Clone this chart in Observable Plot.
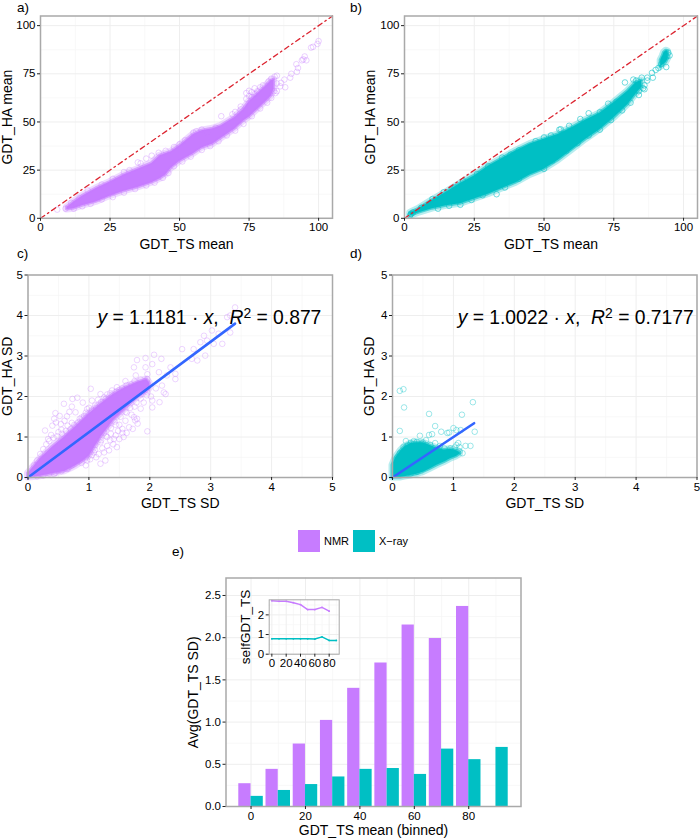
<!DOCTYPE html>
<html>
<head>
<meta charset="utf-8">
<script src="https://cdn.jsdelivr.net/npm/d3@7"></script>
<script src="https://cdn.jsdelivr.net/npm/@observablehq/plot@0.6"></script>
<style>
html,body{margin:0;padding:0;background:#fff}
#page{position:relative;width:700px;height:839px;overflow:hidden;font-family:"Liberation Sans",Arial,sans-serif;color:#000}
#page>svg,#page>figure{position:absolute;margin:0}
.tag{position:absolute;font-size:13.5px;line-height:14px}
.swatch{position:absolute;width:22px;height:22px}
.legtxt{position:absolute;font-size:11px;line-height:12px}
</style>
</head>
<body>
<div id="page"></div>
<script>
// ---------- colours / labels ----------
const nmrColor = "#C77CFF", xrayColor = "#00BFC4", fitColor = "#3366FF", identityColor = "#DC2430";
const panelTags = ["a)", "b)", "c)", "d)", "e)"];
const legendLabels = ["NMR", "X\u2212ray"];

// ---------- ticks ----------
const meanTicks = [0, 25, 50, 75, 100];
const meanMinor = [12.5, 37.5, 62.5, 87.5];
const sdTicks = [0, 1, 2, 3, 4, 5];
const sdMinor = [0.5, 1.5, 2.5, 3.5, 4.5];
const binTicks = [0, 20, 40, 60, 80];
const binMinor = [-10, 10, 30, 50, 70, 90];
const avgTicks = [0, 0.5, 1, 1.5, 2, 2.5];
const avgMinor = [0.25, 0.75, 1.25, 1.75, 2.25];
const selfYTicks = [0, 1, 2];
const identityEnds = [0, 105];

// ---------- panel a: dense NMR cloud outline [x, low, high] ----------
const nmrMeanCloud = [[9.5,4.6,5.6],[12,5,8.5],[15,6.5,11.5],[20,8.5,15.5],[25,11.5,18.8],[30,14,22.5],[35,16,25.5],[40,18.5,28.5],[43,20.5,32.5],[45,22.5,33.5],[47,26,34.5],[50,29.5,37.5],[55,33.5,43.5],[58,36.5,45.5],[62,38.5,46.5],[65,41.5,48],[70,46.5,52.5],[73,50.5,56.5],[75,52.5,60.5],[78,56.5,64.5],[81,60.5,68.5],[83,63.5,71.5],[84,67,72]];
const nmrMeanRings = [[100,92],[99.6,90.5],[98,89],[97.3,88.6],[95,84],[94.5,82.5],[94,82],[95.6,82],[92.6,78],[92,80],[92.2,76],[90.2,75],[89.8,73],[87.7,72],[88,68],[86.2,68.5],[85,74],[84.2,73.5],[83,72.5],[85,70],[84,66],[86.5,70.3],[84.5,65],[75,66.2],[74,65],[77,67.5],[76,63],[78,66],[72,56.5],[69,54],[70,55.2],[65,53],[60,44.5],[63,47],[55,44.5],[45,35],[48,37],[42.5,34],[40,32.5],[38,31],[36,28.5],[35,29],[32,25],[30,24],[26,20.5],[22,17.5],[17,14.5],[14,10.5],[11,8],[6,4.5],[9,5],[12,5],[15,6.2],[18,7.5],[22,9.8],[26,11],[30,13.3],[34,15.2],[38,17],[41,18.5],[44,21],[46,23.5],[48,27],[51,29.5],[54,32],[58,35.5],[61,37.5],[64,40],[67,43],[70,45.5],[73,49],[76,53],[79,57],[81.5,60],[83,62.5],[85,66],[82,71],[80,69],[79,68],[76,65.5],[74,62],[72,58],[75,63.5],[77,64.5],[56,45.2],[58,46],[52,40.5],[50,38.5]];

// ---------- panel b: dense X-ray cloud outline ----------
const xrayMeanCloud = [[2,1.2,2.8],[5,2.8,4.8],[10,5,9.4],[15,6.5,13.5],[20,7.5,18],[25,10,22],[30,12.5,27],[35,15.5,31],[40,18.5,35],[45,22.5,38.5],[50,25.5,41],[55,30,43.5],[60,35.5,47],[65,41,51],[70,46,54.5],[75,52,60],[80,59,66],[83,64.5,70.5],[85,68,71.5]];
const xrayMeanTip = [[91.8,78.5,82],[92.5,79.5,84],[93,80,86],[93.8,81,87],[94.5,83,86.5]];
const xrayMeanRings = [[94,84],[93,83],[92,80],[93.8,78.5],[95,84.5],[94.5,86],[91,78],[90,77],[88.7,75.5],[89,73],[87,73],[85,73],[87,71.5],[84,66],[86,69],[86,67],[82,72],[83,71.5],[79,70.5],[77,60],[76,60.5],[73,59.5],[70,55],[66,54.5],[63,51.5],[59,48],[56,46.2],[55.5,46],[52.5,43],[50,42],[47,40],[41,35.3],[38,33],[35,31.5],[30,27],[26,23],[21,19.3],[18,16],[14,13.5],[10,10],[6,5.5],[2,1.5],[3,3],[2.3,2.2],[12,5],[16,6.5],[20,7],[24,9.5],[28,12],[33,12.5],[36,16],[41,20.5],[47,26],[50,25.7],[53,30],[58,35],[62,39],[66,43],[70,46],[74,51],[78,56],[81,60],[84,64],[85.5,67.5]];

// ---------- panel c ----------
const nmrSdCloud = [[0,0,0.1],[0.1,0.01,0.28],[0.2,0.03,0.46],[0.4,0.09,0.75],[0.6,0.15,1],[0.7,0.22,1.14],[0.8,0.3,1.28],[0.9,0.4,1.42],[1,0.52,1.57],[1.2,1,1.82],[1.4,1.4,2.05],[1.6,1.7,2.22],[1.8,1.98,2.35],[1.95,2.12,2.42],[2,2.2,2.33]];
const nmrSdRings = [[3.4,4.2],[3.32,4],[3.27,3.96],[3.02,3.63],[3.13,3.55],[2.89,3.5],[2.94,3.38],[2.83,3.34],[3.05,3.3],[3.19,3.3],[3.32,3.58],[2.91,3.01],[2.72,3.17],[2.53,3.17],[2.69,2.93],[2.78,2.89],[2.07,3.03],[1.93,2.95],[1.79,2.9],[2.19,2.93],[2.04,2.8],[1.93,2.72],[1.74,2.72],[2.15,2.6],[1.96,2.55],[2.34,2.72],[2.42,2.56],[2.28,2.52],[2.42,2.43],[2.2,2.27],[2.23,2.1],[2.26,2.06],[2.04,1.9],[2.04,1.73],[2.16,1.86],[1.96,2.1],[1.85,2.05],[1.79,1.45],[1.76,1.41],[1.74,1.49],[1.96,1.14],[1.66,1.24],[1.57,1],[1.44,1.04],[1.33,0.67],[1.27,0.42],[1.16,0.58],[1.19,0.34],[1.03,2.19],[0.81,1.97],[0.73,1.94],[0.59,1.82],[0.45,1.59],[0.43,1.45],[0.4,1.28],[0.28,1.16],[0.54,1.32],[0.64,1.51],[0.78,1.61],[0.97,1.69],[1.05,1.9],[1.19,2.06],[1.38,2.15],[1.46,2.23],[1.6,2.38],[1.77,2.52],[1.96,2.43],[0.97,0.42],[0.81,0.42],[0.64,0.21],[0.43,0.09],[1.08,0.62],[1.46,0.75],[1.41,0.95],[1.55,1.2],[1.36,1.08],[1.19,0.87],[1.1,0.8],[1.3,1],[1.5,1.3],[1.6,1.4],[1.7,1.55],[1.85,1.7],[1.9,1.85],[2.02,2],[2.1,2.2],[1.75,1.75],[1.62,1.6],[1.42,1.38],[1.25,1.1],[1.1,0.95],[1,0.72],[0.9,0.55],[0.75,0.38],[0.6,0.28],[0.5,0.18],[0.35,0.1],[0.25,0.05],[0.15,0.03],[0.1,0.3],[0.15,0.42],[0.2,0.58],[0.25,0.7],[0.3,0.82],[0.33,0.95],[0.38,1.05],[0.5,1.12],[0.55,1.18],[0.65,1.28],[0.72,1.35],[0.85,1.45],[0.92,1.52],[1,1.72],[1.1,1.78],[1.15,1.92],[1.25,1.98],[1.3,2.05],[1.45,2.12],[1.55,2.2],[1.7,2.3],[1.85,2.42],[0.68,1.62],[0.6,1.4],[0.72,1.75],[0.9,1.85],[0.52,1.52],[0.46,1.36],[1.12,0.5],[1.25,0.62],[1.3,0.78],[1.22,0.72],[1.05,0.55],[1.4,0.82],[1.5,0.95],[1.62,1.1],[1.72,1.2],[1.8,1.33],[1.55,1.1],[1.48,1.15],[1.35,0.92],[0.95,0.3],[0.88,0.36],[1.02,0.45],[0.35,0.9],[0.42,0.98],[0.48,1.02],[0.56,1.08],[0.62,1.15],[0.7,1.2],[0.76,1.3],[0.82,1.36],[0.88,1.48],[0.95,1.6],[1.05,1.65],[1.12,1.72],[1.2,1.86],[1.28,1.95],[1.35,2.08],[1.5,2.16],[1.62,2.28],[1.75,2.38],[1.92,2.38],[1.2,0.92],[1.28,1.02],[1.36,1.22],[1.44,1.3],[1.52,1.5],[1.6,1.62],[1.68,1.72],[1.78,1.85],[1.85,1.95],[1.95,2.03],[1.1,0.68],[1.02,0.62],[0.95,0.5],[0.85,0.42],[0.72,0.3],[0.66,0.22],[0.55,0.16],[0.45,0.12]];

// ---------- panel d ----------
const xraySdCloud = [[0,0,0.3],[0.05,0,0.48],[0.13,0,0.65],[0.2,0.02,0.76],[0.3,0.05,0.84],[0.4,0.08,0.86],[0.5,0.13,0.86],[0.6,0.2,0.8],[0.73,0.3,0.72],[0.85,0.38,0.68],[0.95,0.46,0.7],[1.05,0.52,0.66],[1.11,0.58,0.62]];
const xraySdRings = [[0.12,2.14],[0.18,2.18],[0.19,1.73],[0.6,1.57],[0.12,1.15],[0.22,0.9],[0.45,1.03],[0.6,1.05],[0.7,1.27],[0.65,1.07],[1,1.22],[1.14,1.55],[1.32,1.86],[1.35,1.13],[0.9,1.1],[0.93,1.11],[0.8,1.13],[1.05,1.17],[1.12,1.17],[1.05,0.8],[1.08,0.85],[1.2,0.78],[1.28,0.78],[1.1,0.75],[1.15,0.6],[1.1,0.65],[0.35,0.9],[0.3,0.85],[0.55,0.92],[0.7,0.85],[0.78,0.78],[0.95,0.72],[1,0.62],[0.92,0.55],[0.85,0.48],[0.72,0.42],[0.6,0.32],[0.5,0.22],[0.4,0.14],[0.3,0.1],[0.18,0.75],[0.12,0.6],[0.08,0.5],[0.25,0.8],[0.4,0.88],[0.5,0.86],[0.62,0.8],[0.85,0.72],[1.02,0.74]];

// ---------- fit lines and labels ----------
const nmrFit = [[0, 0], [3.4, 3.8]];
const xrayFit = [[0, 0], [1.34, 1.34]];
const nmrEq = { slope: "1.1181", r2: "0.877" };
const xrayEq = { slope: "1.0022", r2: "0.7177" };

// ---------- panel e bars ----------
const bins = [0, 10, 20, 30, 40, 50, 60, 70, 80, 90];
const nmrAvgSd = [0.27, 0.44, 0.74, 1.02, 1.40, 1.70, 2.15, 1.99, 2.37, null];
const xrayAvgSd = [0.12, 0.19, 0.26, 0.35, 0.44, 0.45, 0.38, 0.68, 0.555, 0.70];

// ---------- inset ----------
const nmrSelf = [2.72, 2.69, 2.69, 2.62, 2.52, 2.27, 2.27, 2.38, 2.19, null];
const xraySelf = [0.78, 0.78, 0.78, 0.78, 0.78, 0.78, 0.77, 0.88, 0.70, 0.70];

// ---------- helpers ----------
const page = document.getElementById("page");
const FONT = "Liberation Sans, Arial, sans-serif";
const majorGrid = "#eeeeee", minorGrid = "#f6f6f6", border = "#a9a9a9";

function place(el, left, top) {
  el.style.position = "absolute";
  el.style.left = left + "px";
  el.style.top = top + "px";
  page.appendChild(el);
  return el;
}
function labelSize(svg, size) {
  svg.querySelectorAll('[aria-label="x-axis label"],[aria-label="y-axis label"]').forEach(g => {
    g.setAttribute("font-size", size);
    g.style.fontSize = size + "px";
    g.querySelectorAll("text").forEach(t => { t.setAttribute("font-size", size); t.style.fontSize = size + "px"; });
  });
  return svg;
}
function gridMarks(xMajor, xMinor, yMajor, yMinor) {
  return [
    Plot.ruleX(xMinor, {stroke: minorGrid, strokeWidth: 0.8}),
    Plot.ruleY(yMinor, {stroke: minorGrid, strokeWidth: 0.8}),
    Plot.ruleX(xMajor, {stroke: majorGrid, strokeWidth: 1}),
    Plot.ruleY(yMajor, {stroke: majorGrid, strokeWidth: 1})
  ];
}
function axes(o) {
  return [
    Plot.frame({stroke: border, strokeWidth: o.frameWidth || 1.5}),
    Plot.axisX({ticks: o.xTicks, tickSize: 3, tickPadding: 2, fontSize: o.tickFont || 11.5, stroke: "#222",
      label: o.xLabel, labelAnchor: "center", labelArrow: "none", labelOffset: o.xOff, tickFormat: o.xFmt || (d => String(d))}),
    Plot.axisY({ticks: o.yTicks, tickSize: 3, tickPadding: 2, fontSize: o.tickFont || 11.5, stroke: "#222",
      label: o.yLabel, labelAnchor: "center", labelArrow: "none", labelOffset: o.yOff, tickFormat: o.yFmt || (d => String(d))})
  ];
}
function scatterPanel(o) {
  const marks = [
    ...gridMarks(o.xTicks, o.xMinor, o.yTicks, o.yMinor),
    ...o.clouds.flatMap(c => [
      Plot.areaY(c, {x: d => d[0], y1: d => d[1], y2: d => d[2], fill: "none", stroke: o.color, strokeOpacity: 0.28, strokeWidth: 7, strokeLinejoin: "round"}),
      Plot.areaY(c, {x: d => d[0], y1: d => d[1], y2: d => d[2], fill: o.color, stroke: o.color, strokeOpacity: 0.6, strokeWidth: 3, strokeLinejoin: "round"})
    ]),
    Plot.dot(o.rings, {x: d => d[0], y: d => d[1], r: o.r || 2.8, stroke: o.color, strokeOpacity: o.ringOpacity || 0.4, strokeWidth: 1, fill: "none"})
  ];
  if (o.identity) marks.push(Plot.line(identityEnds.map(v => [v, v]), {x: d => d[0], y: d => d[1], stroke: identityColor, strokeWidth: 1.3, strokeDasharray: "5 3.5 1.5 3.5"}));
  if (o.fit) marks.push(Plot.line(o.fit, {x: d => d[0], y: d => d[1], stroke: fitColor, strokeWidth: 2.6}));
  if (o.eq) marks.push(Plot.text([o.eq], {x: o.eqX, y: o.eqY, text: d => `y = ${d.slope} \u00b7 x,  R2 = ${d.r2}`, textAnchor: "start", fontSize: 19.3, fill: "#000", className: "eq"}));
  marks.push(...axes(o));
  const svg = Plot.plot({
    width: o.w, height: o.h, marginLeft: o.ml, marginTop: o.mt, marginRight: o.w - o.ml - o.pw, marginBottom: o.h - o.mt - o.ph,
    style: {fontFamily: FONT, background: "transparent", overflow: "visible", color: "#000"},
    x: {domain: o.xDomain, label: null}, y: {domain: o.yDomain, label: null},
    marks
  });
  if (o.eq) {
    d3.select(svg).selectAll(".eq text").each(function() {
      const t = d3.select(this);
      t.text(null);
      const part = (s, it) => t.append("tspan").attr("font-style", it ? "italic" : "normal").text(s);
      part("y", true); part(` = ${o.eq.slope} \u00b7 `); part("x", true); part(",\u00a0\u00a0"); part("R", true);
      t.append("tspan").attr("dy", "-0.38em").attr("font-size", "0.72em").text("2");
      t.append("tspan").attr("dy", "0.27em").text(` = ${o.eq.r2}`);
    });
  }
  return labelSize(svg, 14);
}

// ---------- panels a, b ----------
const meanCommon = {xTicks: meanTicks, yTicks: meanTicks, xMinor: meanMinor, yMinor: meanMinor, xDomain: [0, 105], yDomain: [0, 105], h: 260, mt: 15.5, ph: 202.3, xLabel: "GDT_TS mean", yLabel: "GDT_HA mean", identity: true, xOff: 31};
place(scatterPanel({...meanCommon, w: 350, ml: 40, pw: 292, color: nmrColor, clouds: [nmrMeanCloud], rings: nmrMeanRings, ringOpacity: 0.35, yOff: 38}), 0, 0);
place(scatterPanel({...meanCommon, w: 350, ml: 54, pw: 293, color: xrayColor, clouds: [xrayMeanCloud, xrayMeanTip], rings: xrayMeanRings, ringOpacity: 0.55, yOff: 39}), 350, 0);

// ---------- panels c, d ----------
const sdCommon = {xTicks: sdTicks, yTicks: sdTicks, xMinor: sdMinor, yMinor: sdMinor, xDomain: [0, 5], yDomain: [0, 5], h: 260, mt: 14.5, ph: 202.5, xLabel: "GDT_TS SD", yLabel: "GDT_HA SD", xOff: 30, eqY: 3.95};
place(scatterPanel({...sdCommon, w: 350, ml: 27.5, pw: 304.5, color: nmrColor, clouds: [nmrSdCloud], rings: nmrSdRings, ringOpacity: 0.32, fit: nmrFit, eq: nmrEq, eqX: 1.14, yOff: 25.5}), 0, 260);
place(scatterPanel({...sdCommon, w: 350, ml: 42, pw: 304.5, color: xrayColor, clouds: [xraySdCloud], rings: xraySdRings, ringOpacity: 0.38, fit: xrayFit, eq: xrayEq, eqX: 1.07, yOff: 28}), 350, 260);

// ---------- panel e ----------
const barsNmr = bins.map((b, i) => ({b, v: nmrAvgSd[i]})).filter(d => d.v != null);
const barsXray = bins.map((b, i) => ({b, v: xrayAvgSd[i]}));
const BAR_WIDTH = 4.5;
place(labelSize(Plot.plot({
  width: 340, height: 269, marginLeft: 55.5, marginTop: 7.5, marginRight: 340 - 55.5 - 295, marginBottom: 269 - 7.5 - 228.5,
  style: {fontFamily: FONT, background: "transparent", overflow: "visible", color: "#000"},
  x: {domain: [-9.2, 99.2], label: null}, y: {domain: [0, 2.707], label: null},
  marks: [
    ...gridMarks(binTicks, binMinor.filter(v => v > -9), avgTicks, avgMinor),
    Plot.rectY(barsNmr, {x1: d => d.b - BAR_WIDTH, x2: d => d.b, y: "v", fill: nmrColor}),
    Plot.rectY(barsXray, {x1: d => d.b, x2: d => d.b + BAR_WIDTH, y: "v", fill: xrayColor}),
    ...axes({xTicks: binTicks, yTicks: avgTicks, xLabel: "GDT_TS mean (binned)", yLabel: "Avg(GDT_TS SD)", xOff: 28.5, yOff: 38, yFmt: d3.format(".1f"), tickFont: 11.5})
  ]
}), 14), 170, 570);

// ---------- inset ----------
const selfNmr = bins.map((b, i) => ({b, v: nmrSelf[i]})).filter(d => d.v != null);
const selfXray = bins.map((b, i) => ({b, v: xraySelf[i]}));
place(labelSize(Plot.plot({
  width: 120, height: 95, marginLeft: 38.7, marginTop: 19.3, marginRight: 11.3, marginBottom: 21.3,
  style: {fontFamily: FONT, background: "transparent", overflow: "visible", color: "#000"},
  x: {domain: [-3.7, 94], label: null}, y: {domain: [0, 2.766], label: null},
  marks: [
    Plot.frame({fill: "white"}),
    ...gridMarks(binTicks, binMinor.filter(v => v > 0), selfYTicks, [0.5, 1.5, 2.5]),
    Plot.line(selfNmr, {x: "b", y: "v", stroke: nmrColor, strokeWidth: 1.5}),
    Plot.line(selfXray, {x: "b", y: "v", stroke: xrayColor, strokeWidth: 1.5}),
    Plot.dot(selfNmr, {x: "b", y: "v", r: 0.9, fill: nmrColor}),
    Plot.dot(selfXray, {x: "b", y: "v", r: 0.9, fill: xrayColor}),
    Plot.frame({stroke: border, strokeWidth: 1}),
    Plot.axisX({ticks: binTicks, tickSize: 3, tickPadding: 2, fontSize: 11.5, stroke: "#222", label: null, tickFormat: d => String(d)}),
    Plot.axisY({ticks: selfYTicks, tickSize: 3, tickPadding: 2, fontSize: 11.5, stroke: "#222", label: "selfGDT_TS", labelAnchor: "center", labelArrow: "none", labelOffset: 29, tickFormat: d => String(d)})
  ]
}), 13.5), 230, 580);

// ---------- panel tags ----------
[[17, 1], [350, 1], [17, 247], [350, 247], [172, 545]].forEach(([l, t], i) => {
  const d = document.createElement("div");
  d.className = "tag"; d.textContent = panelTags[i];
  d.style.left = l + "px"; d.style.top = t + "px";
  page.appendChild(d);
});

// ---------- legend ----------
[[298, 324, nmrColor], [353, 379, xrayColor]].forEach(([sx, tx, c], i) => {
  const s = document.createElement("div");
  s.className = "swatch"; s.style.left = sx + "px"; s.style.top = "530px"; s.style.background = c;
  page.appendChild(s);
  const t = document.createElement("div");
  t.className = "legtxt"; t.textContent = legendLabels[i];
  t.style.left = tx + "px"; t.style.top = "535px";
  page.appendChild(t);
});
</script>
</body>
</html>
